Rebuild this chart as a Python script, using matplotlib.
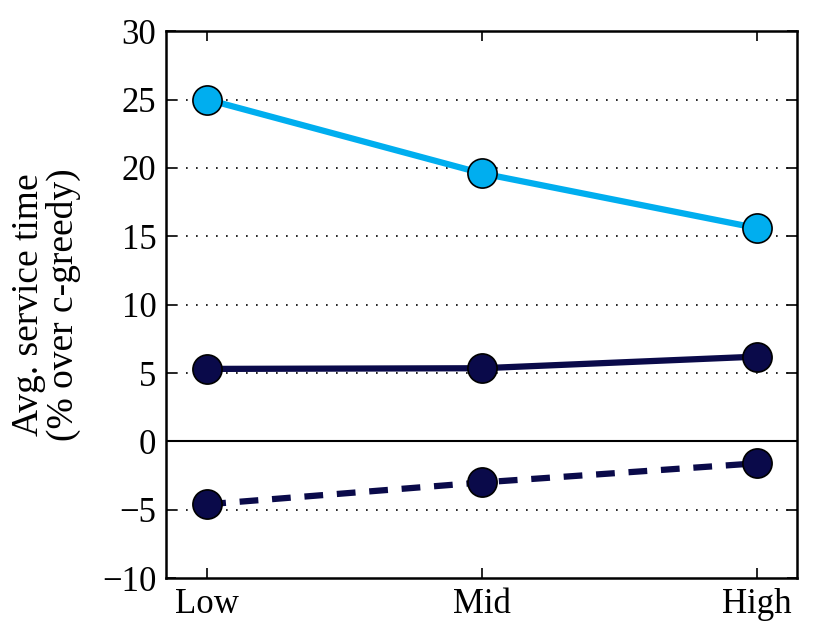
import numpy as np
import matplotlib
matplotlib.use('Agg')
import matplotlib.pyplot as plt

# dados
categorias = ['Low', 'Mid', 'High']
serie_azul = [25.0, 19.6, 15.6]
serie_escura = [5.3, 5.35, 6.2]
serie_tracejada = [-4.6, -3.0, -1.6]

plt.rcParams['font.family'] = ['Liberation Serif', 'DejaVu Serif']

azul = '#00aeef'
escuro = '#0a0a4a'

fig = plt.figure(figsize=(8.3, 6.23), dpi=100)
ax = fig.add_axes([0.2, 0.072, 0.76, 0.878])

x = np.arange(len(categorias))
ax.plot(x, serie_azul, '-o', color=azul, lw=4.5, ms=21, mfc=azul, mec='k', mew=1.2, zorder=3)
ax.plot(x, serie_escura, '-o', color=escuro, lw=4.5, ms=21, mfc=escuro, mec='k', mew=1.2, zorder=3)
ax.plot(x, serie_tracejada, '--o', color=escuro, lw=4.5, ms=21, mfc=escuro, mec='k', mew=1.2,
        dashes=(3, 2.2), zorder=3)

ax.axhline(0, color='k', lw=1.5, zorder=2)
for yv in [-5, 5, 10, 15, 20, 25]:
    ax.axhline(yv, color='k', lw=1.2, ls=(0, (1, 5)), zorder=1)

ax.set_xlim(-0.15, 2.145)
ax.set_ylim(-10, 30)
ax.set_xticks(x)
ax.set_xticklabels(categorias)
ax.set_yticks(np.arange(-10, 31, 5))
ax.tick_params(axis='both', direction='in', labelsize=25, length=7, width=1.2,
               top=True, right=True, pad=7)
for s in ax.spines.values():
    s.set_linewidth(1.8)

ax.set_ylabel('Avg. service time\n(% over c-greedy)', fontsize=27, linespacing=1.0, labelpad=15)

plt.savefig('out.png', dpi=100)
plt.close()
